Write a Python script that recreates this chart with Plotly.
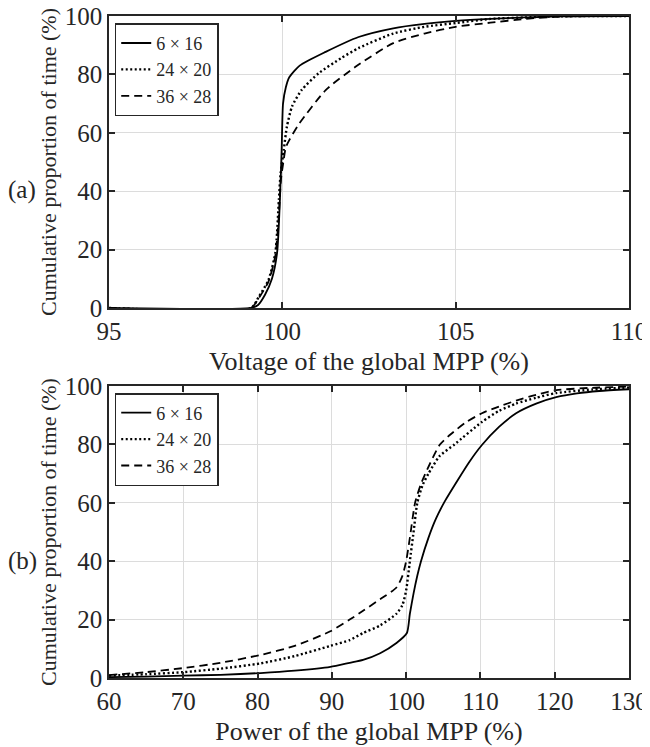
import plotly.graph_objects as go

# ---------------- data: (a) voltage of the global MPP ----------------
v_names = ["6 × 16", "24 × 20", "36 × 28"]

v_x_6x16 = [95, 99.1, 99.3, 99.5, 99.7, 99.85, 99.93, 99.98, 100.02, 100.1, 100.2,
            100.5, 101.25, 102.2, 103.2, 104.1, 105, 106, 107, 108, 110]
v_y_6x16 = [0, 0, 1, 4.5, 10, 19, 37, 54, 70, 75.5, 79,
            83, 87.7, 92.8, 95.8, 97.3, 98.3, 99, 99.5, 99.9, 100]

v_x_24x20 = [95, 99.1, 99.32, 99.6, 99.8, 99.9, 99.95, 100.04, 100.13, 100.28, 100.56,
             101.05, 101.7, 102.2, 103.2, 104.1, 105, 106, 107, 108, 110]
v_y_24x20 = [0, 0, 3.8, 9.6, 19, 37, 46, 54, 62, 69, 74.7,
             80.4, 85.6, 89, 94, 96.3, 97.6, 99, 99.5, 99.9, 100]

v_x_36x28 = [95, 99.1, 99.3, 99.6, 99.8, 99.9, 99.96, 100.03, 100.1, 100.2, 100.48,
             101.25, 102.1, 103.2, 104.1, 105, 106, 107, 108, 110]
v_y_36x28 = [0, 0, 3, 9, 18, 32, 44, 50, 55, 57.5, 63,
             74.6, 82.5, 90.7, 94, 96.3, 97.7, 99, 99.8, 100]

# ---------------- data: (b) power of the global MPP ----------------
p_x_6x16 = [60, 65, 70, 75, 80.4, 85, 89.8, 92.4, 94.2, 96.5, 98.7, 100.1, 100.5, 101,
            101.5, 102, 103, 104, 105.2, 107, 108.5, 110.2, 112.5, 114.8, 117.5,
            120.2, 123, 126, 130]
p_y_6x16 = [0.3, 0.5, 0.8, 1.1, 1.7, 2.5, 3.8, 5.2, 6.2, 8.5, 12, 15.4, 22, 29,
            35, 40, 48, 54.5, 60.5, 68, 74, 79.8, 86, 90.7, 94,
            96.2, 97.5, 98.3, 98.9]

p_x_24x20 = [60, 65, 70, 75, 80.4, 85, 89.8, 92.4, 94.2, 96.5, 98.7, 99.5, 100, 100.5,
             101, 101.5, 102.2, 103, 104.5, 106.5, 110.2, 112.5, 114.8, 117.5, 120.2,
             125, 130]
p_y_24x20 = [0.8, 1.3, 2, 3.2, 5, 7.5, 11, 13, 15.4, 18, 22, 25, 30, 40,
             50, 60, 66, 70, 76, 80, 87.7, 91.5, 94, 96, 97.6,
             98.8, 99.5]

p_x_36x28 = [60, 65, 70, 75, 80.4, 85, 89.8, 92.4, 94.2, 96.5, 98.7, 99.5, 100, 100.5,
             101.2, 102, 102.8, 104.5, 106, 108, 110.2, 112.5, 114.8, 117.5, 120.2,
             125, 130]
p_y_36x28 = [1, 2, 3.4, 5.2, 7.9, 11, 16, 20, 23, 27, 31, 35, 40, 48,
             60, 66.5, 71.2, 79.8, 83.5, 87.5, 90.7, 93, 95, 97, 98.6,
             99.4, 99.8]

v_ticks = [95, 100, 105, 110]
p_ticks = [60, 70, 80, 90, 100, 110, 120, 130]
y_ticks = [0, 20, 40, 60, 80, 100]

FONT = "Liberation Serif, Times New Roman, serif"
TXT = "#262626"
dashes = ["solid", "2px,2.5px", "8px,5px"]
widths = [1.8, 2.4, 1.8]

fig = go.Figure()
v_sets = [(v_x_6x16, v_y_6x16), (v_x_24x20, v_y_24x20), (v_x_36x28, v_y_36x28)]
p_sets = [(p_x_6x16, p_y_6x16), (p_x_24x20, p_y_24x20), (p_x_36x28, p_y_36x28)]

for name, (xs, ys), d, w in zip(v_names, v_sets, dashes, widths):
    fig.add_trace(go.Scatter(x=xs, y=ys, mode="lines", name=name,
                             line=dict(color="black", width=w, dash=d, shape="spline", smoothing=0.6),
                             xaxis="x", yaxis="y", legend="legend"))
for name, (xs, ys), d, w in zip(v_names, p_sets, dashes, widths):
    fig.add_trace(go.Scatter(x=xs, y=ys, mode="lines", name=name,
                             line=dict(color="black", width=w, dash=d, shape="spline", smoothing=0.6),
                             xaxis="x2", yaxis="y2", legend="legend2"))

axis_common = dict(showline=True, linecolor="#262626", linewidth=1.5, mirror="ticks",
                   ticks="inside", ticklen=6, tickwidth=1.5, tickcolor="#262626",
                   showgrid=True, gridcolor="#dcdcdc", gridwidth=1, zeroline=False,
                   automargin=False, ticklabeloverflow="allow",
                   tickfont=dict(family=FONT, size=25, color=TXT))
xtitle_font = dict(family=FONT, size=26, color=TXT)
ytitle_font = dict(family=FONT, size=22, color=TXT)

legend_common = dict(font=dict(family=FONT, size=18, color=TXT), bgcolor="white",
                     bordercolor="#262626", borderwidth=1.5, xanchor="left", yanchor="top",
                     tracegroupgap=0, itemwidth=30, x=0.011)

fig.update_layout(
    template="none",
    width=642, height=739,
    margin=dict(l=101, r=21, t=8, b=69, autoexpand=False),
    paper_bgcolor="white", plot_bgcolor="white",
    font=dict(family=FONT, color=TXT),
    xaxis=dict(axis_common, domain=[0, 1], range=[95, 110], tickvals=v_ticks, anchor="y",
               title=dict(text="Voltage of the global MPP (%)", font=xtitle_font, standoff=8)),
    yaxis=dict(axis_common, domain=[0.559, 1], range=[0, 100], tickvals=y_ticks, anchor="x",
               title=dict(text="Cumulative proportion of time (%)", font=ytitle_font, standoff=2)),
    xaxis2=dict(axis_common, domain=[0, 1], range=[60, 130], tickvals=p_ticks, anchor="y2",
                title=dict(text="Power of the global MPP (%)", font=xtitle_font, standoff=8)),
    yaxis2=dict(axis_common, domain=[0, 0.441], range=[0, 100], tickvals=y_ticks, anchor="x2",
                title=dict(text="Cumulative proportion of time (%)", font=ytitle_font, standoff=2)),
    legend=dict(legend_common, y=0.989),
    legend2=dict(legend_common, y=0.4305),
    showlegend=True,
    annotations=[
        dict(text="(a)", x=-0.167, y=0.737, xref="paper", yref="paper", showarrow=False,
             xanchor="center", yanchor="middle",
             font=dict(family=FONT, size=25, color=TXT)),
        dict(text="(b)", x=-0.167, y=0.1767, xref="paper", yref="paper", showarrow=False,
             xanchor="center", yanchor="middle",
             font=dict(family=FONT, size=25, color=TXT)),
    ],
)

fig.write_html("out.html")
